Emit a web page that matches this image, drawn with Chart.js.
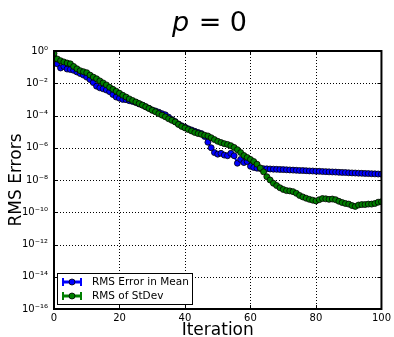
<!DOCTYPE html>
<html><head><meta charset="utf-8">
<script src="https://cdn.jsdelivr.net/npm/chart.js@4/dist/chart.umd.min.js"></script>
<style>html,body{margin:0;padding:0;background:#fff;}#wrap{width:394px;height:337px;position:relative;}</style>
</head><body><div id="wrap"><canvas id="c" width="394" height="337"></canvas></div>
<script>
const iterations = [0,1,2,3,4,5,6,7,8,9,10,11,12,13,14,15,16,17,18,19,20,21,22,23,24,25,26,27,28,29,30,31,32,33,34,35,36,37,38,39,40,41,42,43,44,45,46,47,48,49,50,51,52,53,54,55,56,57,58,59,60,61,62,63,64,65,66,67,68,69,70,71,72,73,74,75,76,77,78,79,80,81,82,83,84,85,86,87,88,89,90,91,92,93,94,95,96,97,98,99,100];

const rmsErrorInMean = [
4.0e-1,1.6e-1,8.9e-2,1.1e-1,7.6e-2,7.1e-2,6.3e-2,5.0e-2,4.0e-2,3.2e-2,
2.4e-2,1.7e-2,1.1e-2,6.6e-3,5.2e-3,4.5e-3,3.8e-3,3.0e-3,2.0e-3,1.4e-3,
1.17e-3,1.0e-3,9.5e-4,8.3e-4,7.4e-4,6.3e-4,5.2e-4,4.4e-4,3.5e-4,2.8e-4,
2.2e-4,1.9e-4,1.6e-4,1.3e-4,1.1e-4,7.9e-5,5.6e-5,4.2e-5,3.0e-5,2.3e-5,
1.9e-5,1.5e-5,1.26e-5,1.05e-5,8.9e-6,7.6e-6,5.0e-6,2.2e-6,1.0e-6,5.0e-7,
4.0e-7,4.5e-7,3.5e-7,3.2e-7,4.5e-7,3.2e-7,1.1e-7,1.9e-7,1.2e-7,1.4e-7,
7.1e-8,6.0e-8,5.4e-8,5.1e-8,5.0e-8,4.9e-8,4.8e-8,4.7e-8,4.6e-8,4.5e-8,
4.4e-8,4.3e-8,4.2e-8,4.1e-8,4.0e-8,3.9e-8,3.85e-8,3.75e-8,3.65e-8,3.6e-8,
3.5e-8,3.45e-8,3.35e-8,3.3e-8,3.2e-8,3.15e-8,3.1e-8,3.0e-8,2.95e-8,2.9e-8,
2.8e-8,2.75e-8,2.7e-8,2.65e-8,2.6e-8,2.55e-8,2.5e-8,2.45e-8,2.4e-8,2.35e-8,
2.3e-8];

const rmsOfStDev = [
7.1e-1,3.2e-1,2.5e-1,2.1e-1,1.8e-1,1.6e-1,1.1e-1,7.9e-2,6.0e-2,5.2e-2,
4.5e-2,3.2e-2,2.4e-2,1.9e-2,1.4e-2,1.05e-2,7.9e-3,5.6e-3,4.2e-3,3.2e-3,
2.4e-3,1.8e-3,1.4e-3,1.07e-3,8.5e-4,6.9e-4,5.5e-4,4.4e-4,3.5e-4,2.75e-4,
2.1e-4,1.7e-4,1.3e-4,1.05e-4,8.3e-5,6.3e-5,5.0e-5,4.0e-5,2.8e-5,2.1e-5,
1.7e-5,1.35e-5,1.1e-5,8.9e-6,7.6e-6,6.8e-6,6.0e-6,5.4e-6,4.2e-6,3.2e-6,
2.5e-6,2.1e-6,1.8e-6,1.6e-6,1.35e-6,1.05e-6,7.6e-7,5.0e-7,3.3e-7,2.5e-7,
1.9e-7,1.4e-7,9.5e-8,5.6e-8,3.2e-8,1.6e-8,1.0e-8,6.3e-9,4.5e-9,3.3e-9,
2.6e-9,2.2e-9,2.1e-9,1.9e-9,1.5e-9,1.1e-9,8.9e-10,7.4e-10,6.3e-10,5.6e-10,
5.0e-10,6.0e-10,7.1e-10,6.8e-10,6.3e-10,6.6e-10,6.0e-10,4.8e-10,4.0e-10,3.5e-10,
3.2e-10,2.6e-10,2.3e-10,2.8e-10,3.0e-10,3.0e-10,3.2e-10,3.2e-10,3.5e-10,4.2e-10,
4.5e-10];

const xTickValues = [0,20,40,60,80,100];
const yTickValues = [1e0,1e-2,1e-4,1e-6,1e-8,1e-10,1e-12,1e-14,1e-16];
const yTickLabels = ['10\u2070','10\u207B\u00B2','10\u207B\u2074','10\u207B\u2076','10\u207B\u2078','10\u207B\u00B9\u2070','10\u207B\u00B9\u00B2','10\u207B\u00B9\u2074','10\u207B\u00B9\u2076'];
const seriesLabels = ['RMS Error in Mean','RMS of StDev'];
const seriesColors = ['#0000ff','#007f00'];

const FONT = "'DejaVu Sans', sans-serif";

const framePlugin = {
  id: 'frame',
  beforeDatasetsDraw(chart) {
    const {ctx, chartArea: a, scales: {x, y}} = chart;
    ctx.save();
    ctx.strokeStyle = '#000';
    ctx.lineWidth = 1;
    ctx.setLineDash([1, 2]);
    xTickValues.forEach(v => {
      const px = Math.round(x.getPixelForValue(v)) + 0.5;
      if (v === x.min || v === x.max) return;
      ctx.beginPath(); ctx.moveTo(px, a.top); ctx.lineTo(px, a.bottom); ctx.stroke();
    });
    yTickValues.forEach(v => {
      if (v === y.min || v === y.max) return;
      const py = Math.round(y.getPixelForValue(v)) + 0.5;
      ctx.beginPath(); ctx.moveTo(a.left, py); ctx.lineTo(a.right, py); ctx.stroke();
    });
    ctx.restore();
  },
  afterDatasetsDraw(chart) {
    const {ctx, chartArea: a, scales: {x, y}} = chart;
    ctx.save();
    ctx.strokeStyle = '#000';
    ctx.lineWidth = 1;
    xTickValues.forEach(v => {
      const px = Math.round(x.getPixelForValue(v)) + 0.5;
      ctx.beginPath(); ctx.moveTo(px, a.bottom); ctx.lineTo(px, a.bottom - 4);
      ctx.moveTo(px, a.top); ctx.lineTo(px, a.top + 4); ctx.stroke();
    });
    yTickValues.forEach(v => {
      const py = Math.round(y.getPixelForValue(v)) + 0.5;
      ctx.beginPath(); ctx.moveTo(a.left, py); ctx.lineTo(a.left + 4, py);
      ctx.moveTo(a.right, py); ctx.lineTo(a.right - 4, py); ctx.stroke();
    });
    ctx.lineWidth = 2;
    ctx.strokeRect(a.left, a.top, a.right - a.left, a.bottom - a.top);
    // legend
    const lx = 57, ly = 273, lw = 135, lh = 31;
    ctx.fillStyle = '#fff';
    ctx.fillRect(lx, ly, lw, lh);
    ctx.lineWidth = 1;
    ctx.strokeStyle = '#000';
    ctx.strokeRect(lx + 0.5, ly + 0.5, lw, lh);
    chart.data.datasets.forEach((ds, i) => {
      const cy = ly + 9 + i * 14;
      const c = ds.borderColor;
      ctx.strokeStyle = c;
      ctx.lineWidth = 3;
      ctx.beginPath(); ctx.moveTo(63, cy); ctx.lineTo(81, cy); ctx.stroke();
      ctx.lineWidth = 2;
      ctx.beginPath(); ctx.moveTo(63, cy - 4); ctx.lineTo(63, cy + 4);
      ctx.moveTo(81, cy - 4); ctx.lineTo(81, cy + 4); ctx.stroke();
      ctx.fillStyle = c;
      ctx.beginPath(); ctx.arc(72, cy, 3, 0, Math.PI * 2); ctx.fill();
      ctx.lineWidth = 0.8; ctx.strokeStyle = '#000'; ctx.stroke();
      ctx.fillStyle = '#000';
      ctx.font = '10.5px ' + FONT;
      ctx.textBaseline = 'middle';
      ctx.textAlign = 'left';
      ctx.fillText(ds.label, 92, cy);
    });
    ctx.restore();
  },
  afterDraw(chart) {
    const ctx = chart.ctx;
    ctx.save();
    ctx.fillStyle = '#000';
    ctx.textBaseline = 'alphabetic';
    ctx.textAlign = 'left';
    const fItal = 'italic 27px ' + FONT, fNorm = '27px ' + FONT;
    ctx.font = fItal; const w1 = ctx.measureText('p').width;
    ctx.font = fNorm; const w2 = ctx.measureText(' = 0').width;
    const x0 = 209 - (w1 + w2) / 2;
    ctx.font = fItal; ctx.fillText('p', x0, 31);
    ctx.font = fNorm; ctx.fillText(' = 0', x0 + w1 + 1, 31);
    ctx.restore();
  }
};

const makeData = vals => iterations.map((it, i) => ({x: it, y: vals[i]}));

new Chart(document.getElementById('c'), {
  type: 'line',
  data: {
    datasets: [
      {label: seriesLabels[0], data: makeData(rmsErrorInMean), borderColor: seriesColors[0], backgroundColor: seriesColors[0],
       pointBackgroundColor: seriesColors[0], pointBorderColor: '#000', pointBorderWidth: 0.8, pointRadius: 3, borderWidth: 2, order: 1, tension: 0},
      {label: seriesLabels[1], data: makeData(rmsOfStDev), borderColor: seriesColors[1], backgroundColor: seriesColors[1],
       pointBackgroundColor: seriesColors[1], pointBorderColor: '#000', pointBorderWidth: 0.8, pointRadius: 3, borderWidth: 2, order: 0, tension: 0}
    ]
  },
  options: {
    responsive: false, animation: false, devicePixelRatio: 1,
    layout: {padding: {top: 51, right: 9, left: 0, bottom: 0}},
    plugins: {legend: {display: false}, tooltip: {enabled: false}, title: {display: false}},
    scales: {
      x: {
        type: 'linear', min: 0, max: 100,
        afterBuildTicks: s => { s.ticks = xTickValues.map(v => ({value: v})); },
        afterFit: s => { s.height = 28; },
        grid: {display: false, drawTicks: false},
        border: {display: false},
        ticks: {color: '#000', font: {family: FONT, size: 10}, padding: 3, maxRotation: 0, autoSkip: false,
                callback: v => String(v)},
        title: {display: true, text: 'Iteration', color: '#000', font: {family: FONT, size: 17, lineHeight: 1.0}, padding: {top: 0, bottom: -2}}
      },
      y: {
        type: 'logarithmic', min: 1e-16, max: 1,
        afterBuildTicks: s => { s.ticks = yTickValues.map(v => ({value: v})); },
        afterFit: s => { s.width = 54; },
        grid: {display: false, drawTicks: false},
        border: {display: false},
        ticks: {color: '#000', font: {family: FONT, size: 10}, padding: 6, autoSkip: false,
                callback: (v) => { const i = yTickValues.indexOf(v); return i >= 0 ? yTickLabels[i] : ''; }},
        title: {display: true, text: 'RMS Errors', color: '#000', font: {family: FONT, size: 17}, padding: {top: 6, bottom: 0}}
      }
    }
  },
  plugins: [framePlugin]
});
</script></body></html>
